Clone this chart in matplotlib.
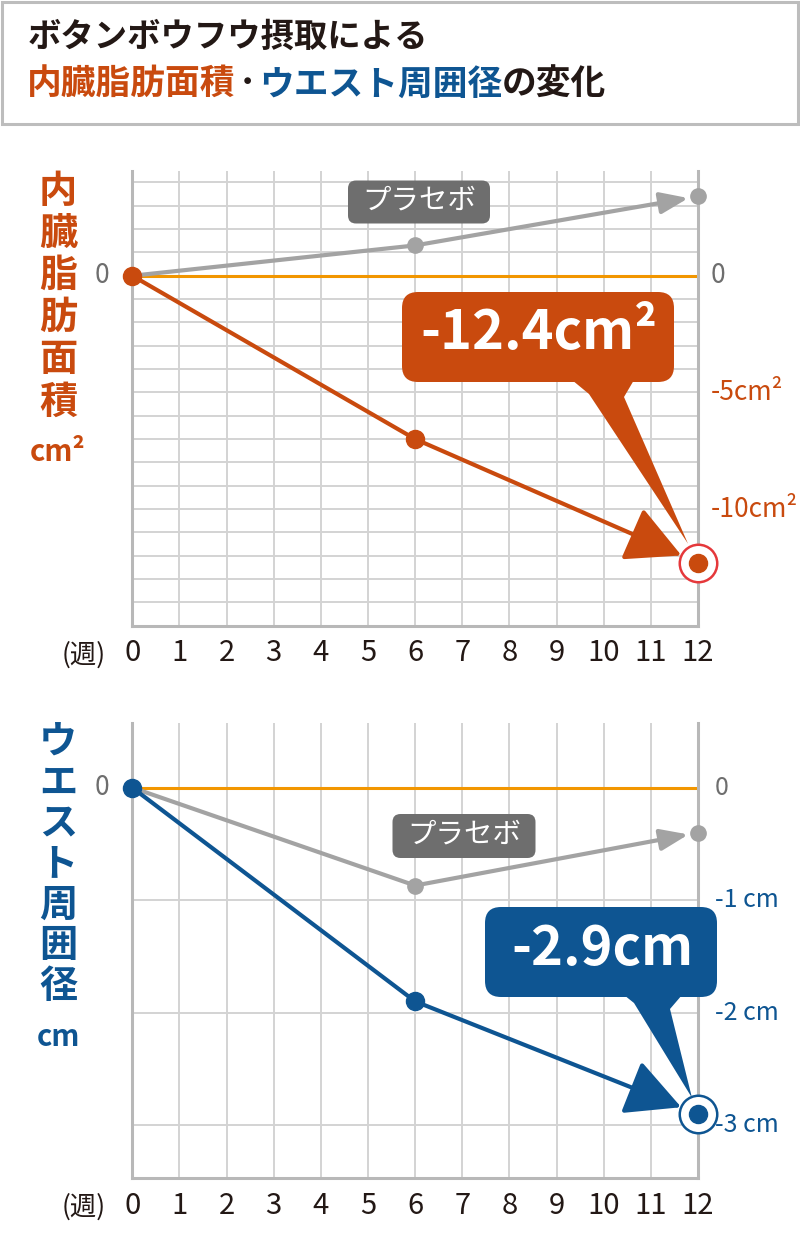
import matplotlib
matplotlib.use('Agg')
import matplotlib.pyplot as plt
from matplotlib.patches import FancyBboxPatch, Polygon, Rectangle
from matplotlib.transforms import IdentityTransform, blended_transform_factory

plt.rcParams['font.family'] = ['Noto Sans CJK JP', 'DejaVu Sans']

# ---------------- data ----------------
weeks = [0, 6, 12]
week_ticks = list(range(13))
week_labels = [str(w) for w in week_ticks]

vfa_active = [0, -7.0, -12.3]
vfa_placebo = [0, 1.3, 3.4]
vfa_ticks = [0, -5, -10]
vfa_tick_labels = ['0', '-5cm²', '-10cm²']
vfa_grid = list(range(-15, 5))
vfa_callout = '-12.4cm²'

waist_active = [0, -1.9, -2.9]
waist_placebo = [0, -0.87, -0.40]
waist_ticks = [0, -1, -2, -3]
waist_tick_labels = ['0', '-1 cm', '-2 cm', '-3 cm']
waist_grid = [-1, -2, -3]
waist_callout = '-2.9cm'

title_line1 = 'ボタンボウフウ摂取による'
title_line2 = ['内臓脂肪面積', '･', 'ウエスト周囲径', 'の変化']
vfa_label = '内臓脂肪面積'
waist_label = 'ウエスト周囲径'
placebo_label = 'プラセボ'
week_unit = '(週)'

# ---------------- style ----------------
ORANGE = '#C94A0E'
BLUE = '#0E5592'
GRAY_LINE = '#A3A3A3'
GRAY_BOX = '#6E6E6E'
ZERO = '#F29600'
GRID = '#D3D3D3'
SPINE = '#B8B8B8'
RING_RED = '#E5383B'
DARK = '#231815'
TICK_GRAY = '#6E6E6E'

W, H = 800, 1250
fig = plt.figure(figsize=(8, 12.5), dpi=100)
fig.patch.set_facecolor('white')
ID = IdentityTransform()


def P(x, y):
    return (x, H - y)


def make_axes(top, bottom):
    left, right = 132.3, 698.0
    return fig.add_axes([left / W, 1 - bottom / H, (right - left) / W, (bottom - top) / H])


def setup(ax, ylim, hgrid, ticks, tick_labels, tick_color, label_x, label_fs):
    ax.set_xlim(0, 12)
    ax.set_ylim(*ylim)
    ax.set_facecolor('none')
    for x in week_ticks:
        ax.axvline(x, color=GRID, lw=1.4, zorder=1)
    for y in hgrid:
        ax.axhline(y, color=GRID, lw=1.4, zorder=1)
    ax.axhline(0, color=ZERO, lw=2.2, zorder=2)
    for s in ['left', 'right', 'bottom']:
        ax.spines[s].set_color(SPINE)
        ax.spines[s].set_linewidth(2.2)
    ax.spines['top'].set_visible(False)
    ax.set_yticks([])
    ax.set_xticks(week_ticks)
    ax.set_xticklabels(week_labels)
    ax.tick_params(axis='x', length=0, pad=9, labelsize=21, labelcolor=DARK)
    tr = blended_transform_factory(ax.transAxes, ax.transData)
    # left zero
    ax.text(-0.054, 0, '0', transform=tr, ha='center', va='center',
            fontsize=19, color=TICK_GRAY)
    for v, lab in zip(ticks, tick_labels):
        c = TICK_GRAY if v == 0 else tick_color
        ax.text(label_x, v, lab, transform=tr, ha='left', va='center',
                fontsize=label_fs, color=c, clip_on=False)
    # week unit
    ax.annotate(week_unit, xy=(0, 0), xycoords='axes fraction',
                xytext=(-49 * 0.72, -29.5 * 0.72), textcoords='offset points',
                ha='center', va='center', fontsize=19, color=DARK)


def series(ax, active, placebo, color, ring_color):
    # placebo
    ax.plot(weeks[:2], placebo[:2], color=GRAY_LINE, lw=3, zorder=3,
            solid_capstyle='round', clip_on=False)
    ax.annotate('', xy=(weeks[2], placebo[2]), xytext=(weeks[1], placebo[1]),
                arrowprops=dict(arrowstyle='-|>,head_length=1.7,head_width=0.65',
                                color=GRAY_LINE, lw=3, shrinkA=0, shrinkB=7),
                zorder=3, annotation_clip=False)
    ax.plot(weeks[1:], placebo[1:], 'o', ms=11, color=GRAY_LINE, zorder=4, clip_on=False)
    # active
    ax.plot(weeks[:2], active[:2], color=color, lw=3, zorder=5,
            solid_capstyle='round', clip_on=False)
    ax.annotate('', xy=(weeks[2], active[2]), xytext=(weeks[1], active[1]),
                arrowprops=dict(arrowstyle='-|>,head_length=3.4,head_width=1.75',
                                color=color, lw=3, shrinkA=0, shrinkB=13),
                zorder=5, annotation_clip=False)
    ax.plot(weeks[:2], active[:2], 'o', ms=13, color=color, zorder=6, clip_on=False)
    ax.plot([weeks[-1]], [active[-1]], 'o', ms=27, mfc='white', mec=ring_color,
            mew=1.8, zorder=7, clip_on=False)
    ax.plot([weeks[-1]], [active[-1]], 'o', ms=13, color=color, zorder=8, clip_on=False)


def callout(ax, active, color, box, text, tail, tip_off):
    x0, y0, x1, y1 = box
    fig.add_artist(FancyBboxPatch(P(x0, y1), x1 - x0, y1 - y0,
                                  boxstyle='round,pad=0,rounding_size=16',
                                  transform=ID, fc=color, ec='none', zorder=10))
    px, py = ax.transData.transform((weeks[-1], active[-1]))
    tip = (px + tip_off[0], py + tip_off[1])
    pts = [P(*tail[0]), P(*tail[1]), tip, P(*tail[2]), P(*tail[3])]
    fig.add_artist(Polygon(pts, closed=True, transform=ID, fc=color, ec='none', zorder=10))
    fig.text((x0 + x1) / 2 + 1, H - (y0 + y1) / 2 + 3, text, transform=ID,
             ha='center', va='center', fontsize=39, fontweight='bold',
             color='white', zorder=11)


def placebo_box(cx, cy, w, h):
    fig.add_artist(FancyBboxPatch(P(cx - w / 2, cy + h / 2), w, h,
                                  boxstyle='round,pad=0,rounding_size=8',
                                  transform=ID, fc=GRAY_BOX, ec='none', zorder=10))
    fig.text(cx, H - cy + 1, placebo_label, transform=ID, ha='center', va='center',
             fontsize=20.5, color='white', zorder=11)


# ---------------- title ----------------
fig.add_artist(Rectangle(P(1.5, 123.5), 796, 122, transform=ID, fc='none',
                         ec='#BDBDBD', lw=2.2, zorder=5))
fig.text(28, H - 37, title_line1, transform=ID, ha='left', va='center',
         fontsize=24, fontweight='bold', color=DARK)
em = 25 * 100 / 72
x = 27
for seg, col in zip(title_line2, [ORANGE, DARK, BLUE, DARK]):
    if seg == '･':
        fig.text(x + 3, H - 84, seg, transform=ID, ha='left', va='center',
                 fontsize=25, fontweight='bold', color=col)
        x += em * 0.5 + 6
    else:
        fig.text(x, H - 84, seg, transform=ID, ha='left', va='center',
                 fontsize=25, fontweight='bold', color=col)
        x += em * len(seg)

# ---------------- top chart ----------------
ax1 = make_axes(171, 625.7)
setup(ax1, (-15, 4.49), vfa_grid, vfa_ticks, vfa_tick_labels, ORANGE, 1.022, 19)
series(ax1, vfa_active, vfa_placebo, ORANGE, RING_RED)
callout(ax1, vfa_active, ORANGE, (402, 292, 674, 382), vfa_callout,
        [(572, 380), (589, 394), (624, 397), (634, 380)], (-10, 19))
placebo_box(419, 202, 142, 43)
for i, ch in enumerate(vfa_label):
    fig.text(58, H - (191 + i * 42.2), ch, transform=ID, ha='center', va='center',
             fontsize=27.5, fontweight='bold', color=ORANGE)
fig.text(58, H - 452, 'cm²', transform=ID, ha='center', va='center',
         fontsize=21, fontweight='bold', color=ORANGE)

# ---------------- bottom chart ----------------
ax2 = make_axes(723, 1178)
setup(ax2, (-3.47, 0.575), waist_grid, waist_ticks, waist_tick_labels, BLUE, 1.03, 18)
series(ax2, waist_active, waist_placebo, BLUE, BLUE)
callout(ax2, waist_active, BLUE, (485, 907, 717, 997), waist_callout,
        [(624, 995), (634, 1003), (670, 1009), (682, 995)], (-6, 16))
placebo_box(464, 836, 143, 44)
for i, ch in enumerate(waist_label):
    fig.text(58, H - (742 + i * 40.7), ch, transform=ID, ha='center', va='center',
             fontsize=27.5, fontweight='bold', color=BLUE)
fig.text(58, H - 1037, 'cm', transform=ID, ha='center', va='center',
         fontsize=21, fontweight='bold', color=BLUE)

fig.savefig('out.png', dpi=100, facecolor='white')
